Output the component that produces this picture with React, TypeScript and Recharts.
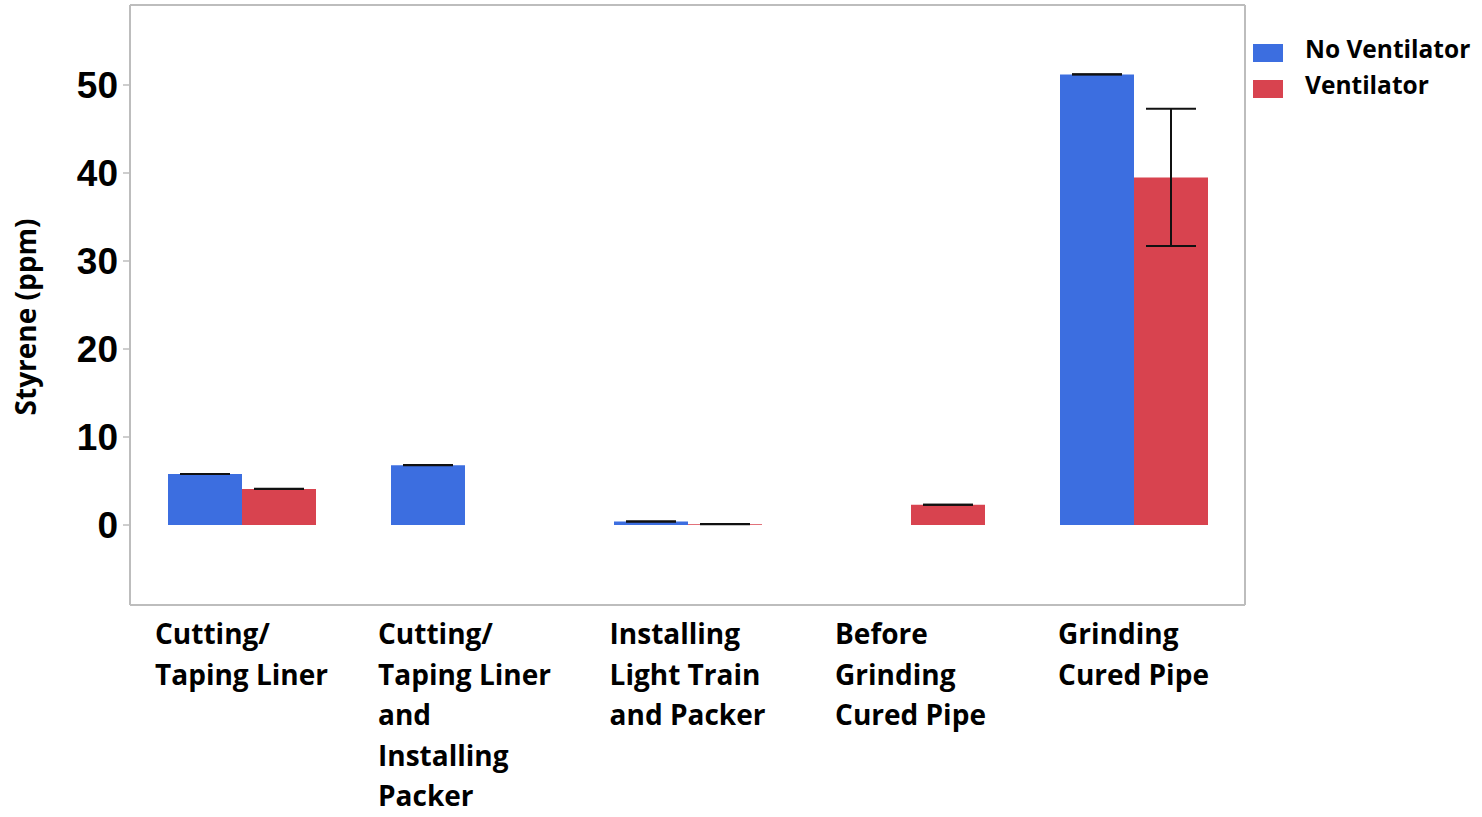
import React from 'react';
import { BarChart, Bar, XAxis, YAxis, ErrorBar } from 'recharts';

// each category label is drawn as stacked lines
const categoryLines = [
  ['Cutting/', 'Taping Liner'],
  ['Cutting/', 'Taping Liner', 'and', 'Installing', 'Packer'],
  ['Installing', 'Light Train', 'and Packer'],
  ['Before', 'Grinding', 'Cured Pipe'],
  ['Grinding', 'Cured Pipe'],
];
const categories = categoryLines.map((l) => l.join(' '));
const noVentilator = [5.8, 6.8, 0.4, null, 51.2];
const noVentilatorErr = [0.01, 0.01, 0.01, null, 0.01];
const ventilator = [4.1, null, 0.1, 2.3, 39.5];
const ventilatorErr = [0.01, null, 0.01, 0.01, 7.8];
const yTicks = [0, 10, 20, 30, 40, 50];

const data = categories.map((name, i) => ({
  name,
  noVent: noVentilator[i],
  noVentErr: noVentilatorErr[i],
  vent: ventilator[i],
  ventErr: ventilatorErr[i],
}));

const BLUE = '#3c6ee0';
const RED = '#d8434f';
const AXIS = '#bdbdbd';
const LABEL_FONT = "'Open Sans', sans-serif";
const TICK_SIZE = 28;

let ctx: CanvasRenderingContext2D | null = null;
function textWidth(s: string, font: string) {
  if (!ctx) ctx = document.createElement('canvas').getContext('2d');
  if (!ctx) return s.length * 16;
  ctx.font = font;
  return ctx.measureText(s).width;
}

function CategoryTick(props: any) {
  const { x, payload } = props;
  const idx = categories.indexOf(payload.value);
  const lines = categoryLines[idx] || [payload.value];
  const w = Math.max(...lines.map((l) => textWidth(l, `bold ${TICK_SIZE}px ${LABEL_FONT}`)));
  const left = x - w / 2;
  return (
    <text
      x={left}
      y={644}
      fontFamily={LABEL_FONT}
      fontWeight="bold"
      fontSize={TICK_SIZE}
      fill="#000"
      textAnchor="start"
    >
      {lines.map((l, i) => (
        <tspan key={i} x={left} y={644 + i * 40.5}>
          {l}
        </tspan>
      ))}
    </text>
  );
}

export default function App() {
  return (
    <div style={{ position: 'absolute', left: 0, top: 0, width: 1482, height: 817 }}>
      <BarChart
        width={1482}
        height={817}
        data={data}
        margin={{ top: 4, right: 236, bottom: 0, left: 0 }}
        barSize={74}
        barGap={0}
      >
        <XAxis
          dataKey="name"
          height={212}
          axisLine={{ stroke: AXIS, strokeWidth: 2 }}
          tickLine={false}
          tick={<CategoryTick />}
          interval={0}
        />
        <XAxis
          xAxisId="top"
          dataKey="name"
          orientation="top"
          height={1}
          axisLine={{ stroke: AXIS, strokeWidth: 2 }}
          tickLine={false}
          tick={false}
        />
        <YAxis
          width={130}
          domain={[-9.09, 59.09]}
          ticks={yTicks}
          allowDataOverflow
          axisLine={{ stroke: AXIS, strokeWidth: 2 }}
          tickLine={{ stroke: AXIS, strokeWidth: 1.5 }}
          tickSize={7}
          tickMargin={5}
          tick={{
            fill: '#000',
            fontFamily: "'Liberation Sans', Arial, sans-serif",
            fontWeight: 'bold',
            fontSize: 37,
          }}
          label={{
            content: () => (
              <text
                transform="translate(25,317) rotate(-90)"
                textAnchor="middle"
                dominantBaseline="central"
                fontFamily={LABEL_FONT}
                fontWeight="bold"
                fontSize={28}
                fill="#000"
              >
                Styrene (ppm)
              </text>
            ),
          }}
        />
        <YAxis
          yAxisId="right"
          orientation="right"
          width={1}
          domain={[0, 1]}
          axisLine={{ stroke: AXIS, strokeWidth: 2 }}
          tickLine={false}
          tick={false}
        />
        <Bar dataKey="noVent" fill={BLUE} isAnimationActive={false}>
          <ErrorBar dataKey="noVentErr" width={25} stroke="#111" strokeWidth={2} isAnimationActive={false} />
        </Bar>
        <Bar dataKey="vent" fill={RED} isAnimationActive={false}>
          <ErrorBar dataKey="ventErr" width={25} stroke="#111" strokeWidth={2} isAnimationActive={false} />
        </Bar>
      </BarChart>
      <div
        style={{
          position: 'absolute',
          left: 1253,
          top: 30,
          fontFamily: LABEL_FONT,
          fontWeight: 'bold',
          fontSize: 24.5,
          color: '#000',
        }}
      >
        {[
          ['No Ventilator', BLUE],
          ['Ventilator', RED],
        ].map(([label, color]) => (
          <div key={label} style={{ display: 'flex', alignItems: 'center', height: 36 }}>
            <span
              style={{
                display: 'inline-block',
                width: 30,
                height: 18,
                background: color,
                marginRight: 22,
                position: 'relative',
                top: 5,
              }}
            />
            <span>{label}</span>
          </div>
        ))}
      </div>
    </div>
  );
}
